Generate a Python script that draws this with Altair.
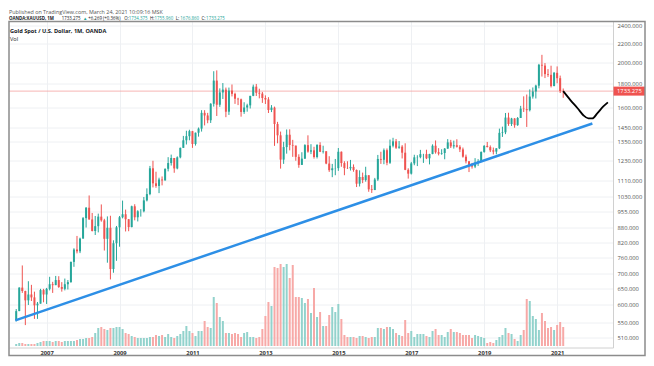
import altair as alt
import pandas as pd
import numpy as np

# ---------------- data (monthly candles, Mar 2006 .. Mar 2021) ----------------
first_open = 556
closes = [
    582, 654, 643, 614, 632, 623, 599, 604, 646, 632,
    650, 665, 662, 679, 656, 650, 665, 672, 743, 790, 783, 834,
    923, 972, 917, 866, 887, 930, 913, 833, 880, 717, 815, 882,
    927, 941, 918, 883, 979, 927, 955, 955, 1008, 1040, 1182, 1097,
    1083, 1118, 1113, 1179, 1213, 1244, 1181, 1248, 1308, 1358, 1386, 1421,
    1333, 1410, 1439, 1556, 1536, 1500, 1628, 1826, 1620, 1722, 1746, 1565,
    1738, 1710, 1669, 1664, 1563, 1598, 1615, 1693, 1772, 1719, 1712, 1675,
    1663, 1578, 1597, 1472, 1392, 1234, 1313, 1396, 1327, 1323, 1251, 1202,
    1240, 1326, 1284, 1292, 1250, 1327, 1283, 1286, 1210, 1171, 1182, 1183,
    1283, 1213, 1183, 1182, 1190, 1172, 1095, 1132, 1115, 1142, 1065, 1061,
    1118, 1238, 1233, 1293, 1215, 1322, 1351, 1309, 1316, 1277, 1173, 1151,
    1211, 1248, 1249, 1268, 1268, 1242, 1269, 1322, 1280, 1271, 1275, 1303,
    1344, 1318, 1325, 1315, 1298, 1252, 1224, 1201, 1192, 1215, 1222, 1282,
    1321, 1313, 1292, 1284, 1305, 1409, 1413, 1520, 1472, 1513, 1464, 1517,
    1589, 1585, 1577, 1687, 1730, 1781, 1975, 1967, 1886, 1879, 1777, 1898,
    1848, 1734, 1733.275,
]
highs = [
    588, 655, 730, 644, 675, 663, 641, 609, 650, 650,
    653, 690, 673, 693, 692, 672, 684, 679, 744, 795, 845, 838,
    928, 975, 1033, 947, 933, 944, 988, 920, 931, 934, 827, 888,
    933, 1007, 963, 919, 982, 989, 960, 965, 1025, 1070, 1196, 1227,
    1162, 1128, 1135, 1181, 1249, 1265, 1244, 1254, 1310, 1388, 1424, 1431,
    1423, 1411, 1447, 1577, 1577, 1556, 1632, 1913, 1921, 1757, 1804, 1764,
    1764, 1791, 1720, 1677, 1670, 1640, 1628, 1693, 1790, 1796, 1754, 1726,
    1697, 1682, 1617, 1605, 1488, 1418, 1348, 1433, 1434, 1361, 1322, 1267,
    1280, 1332, 1392, 1332, 1315, 1332, 1345, 1322, 1287, 1255, 1208, 1238,
    1307, 1285, 1224, 1224, 1232, 1205, 1175, 1170, 1157, 1191, 1142, 1088,
    1127, 1263, 1283, 1304, 1304, 1363, 1375, 1367, 1353, 1326, 1338, 1182,
    1220, 1264, 1261, 1295, 1270, 1296, 1270, 1331, 1357, 1306, 1299, 1307,
    1366, 1361, 1356, 1365, 1326, 1310, 1265, 1224, 1214, 1243, 1237, 1285,
    1326, 1347, 1324, 1310, 1306, 1439, 1453, 1555, 1557, 1518, 1516, 1524,
    1611, 1689, 1704, 1748, 1765, 1789, 1984, 2075, 1992, 1933, 1966, 1906,
    1959, 1872, 1755.96,
]
lows = [
    553, 582, 637, 543, 600, 612, 560, 560, 604, 608,
    603, 645, 637, 662, 653, 641, 645, 648, 670, 725, 775, 776,
    834, 881, 916, 864, 849, 860, 907, 786, 740, 681, 704, 747,
    801, 922, 864, 865, 882, 913, 908, 930, 950, 1003, 1034, 1075,
    1073, 1045, 1086, 1112, 1164, 1198, 1156, 1176, 1242, 1308, 1330, 1358,
    1308, 1323, 1383, 1418, 1462, 1478, 1480, 1605, 1532, 1603, 1667, 1523,
    1540, 1688, 1627, 1617, 1527, 1548, 1565, 1590, 1690, 1692, 1672, 1635,
    1626, 1555, 1562, 1321, 1338, 1180, 1208, 1271, 1292, 1251, 1227, 1185,
    1202, 1238, 1277, 1268, 1240, 1241, 1281, 1272, 1206, 1161, 1131, 1142,
    1167, 1191, 1142, 1178, 1169, 1162, 1077, 1080, 1098, 1106, 1052, 1046,
    1061, 1110, 1208, 1206, 1200, 1208, 1311, 1301, 1302, 1241, 1171, 1123,
    1146, 1200, 1195, 1242, 1214, 1237, 1205, 1267, 1271, 1260, 1264, 1236,
    1302, 1307, 1303, 1310, 1281, 1246, 1211, 1160, 1180, 1183, 1196, 1221,
    1277, 1311, 1281, 1266, 1267, 1300, 1381, 1400, 1459, 1458, 1445, 1459,
    1517, 1563, 1451, 1567, 1670, 1671, 1757, 1863, 1849, 1860, 1765, 1776,
    1802, 1717, 1676.86,
]
volumes = [
    2, 3, 3, 2, 2, 2, 2, 3, 4, 5,
    5, 5, 4, 5, 5, 4, 5, 5, 5, 5, 6, 7,
    7, 8, 8, 9, 13, 18, 19, 17, 16, 18, 18, 19,
    19, 17, 13, 12, 10, 9, 8, 8, 8, 8, 9, 9,
    11, 10, 11, 9, 12, 9, 8, 10, 12, 15, 20, 15,
    13, 10, 15, 15, 25, 19, 18, 49, 43, 29, 25, 13,
    13, 12, 13, 12, 9, 13, 14, 9, 9, 8, 9, 17,
    30, 44, 40, 79, 78, 82, 79, 82, 68, 81, 49, 49,
    48, 43, 47, 33, 58, 29, 34, 20, 20, 31, 39, 34,
    42, 27, 11, 9, 9, 9, 8, 10, 10, 9, 8, 9,
    9, 18, 18, 17, 19, 19, 17, 13, 11, 10, 26, 13,
    15, 9, 12, 12, 12, 10, 9, 15, 17, 11, 11, 9,
    14, 17, 14, 14, 13, 11, 11, 11, 8, 11, 10, 9,
    8, 3, 4, 3, 6, 9, 11, 18, 13, 12, 7, 5,
    11, 16, 47, 45, 30, 27, 16, 33, 25, 18, 19, 16,
    21, 24, 19,
]
last_open = 1734.375
last_price = 1733.275

# trend line (month index, price) and hand-drawn projection
trend_i = [-0.3, 189.6]
trend_p = [556, 1476]
proj_i = [180, 182.5, 184.8, 186.7, 188.3, 189.6, 191.2, 193.2, 194.7]
proj_p = [1733, 1654, 1590, 1536, 1514, 1514, 1552, 1606, 1639]

y_ticks = [510, 550, 600, 650, 700, 760, 820, 880, 955, 1030, 1110,
           1230, 1350, 1450, 1600, 1800, 2000, 2200, 2400]
year_ticks = [10, 34, 58, 82, 106, 130, 154, 178]   # Jan 2007 .. Jan 2021

header1 = "Published on TradingView.com, March 24, 2021 10:09:16 MSK"
header2 = [
    ("OANDA:XAUUSD, 1M ", "#131722", "bold"),
    ("1733.275 ", "#131722", "normal"),
    ("\u25b2 ", "#26a69a", "normal"),
    ("+6.269 (+0.36%) ", "#131722", "normal"),
    ("O:", "#131722", "normal"),
    ("1734.375 ", "#26a69a", "normal"),
    ("H:", "#131722", "normal"),
    ("1755.960 ", "#26a69a", "normal"),
    ("L:", "#131722", "normal"),
    ("1676.860 ", "#26a69a", "normal"),
    ("C:", "#131722", "normal"),
    ("1733.275", "#26a69a", "normal"),
]
pane_title = "Gold Spot / U.S. Dollar, 1M, OANDA"
pane_sub = "Vol"

# ---------------- styles / layout ----------------
GREEN, RED = "#26a69a", "#ef5350"
VGREEN, VRED = "#92d2cc", "#f7a9a7"
FONT = "Open Sans"
W, H = 604, 326
STRIP_X, STRIP_Y = 32, 8
H1_SIZE, H2_SIZE = 5.4, 4.4


def em_width(s, bold):
    w = 0.0
    for ch in s:
        if ch.isdigit() or ch == "+":
            w += 0.58
        elif ch in ".:,; ":
            w += 0.29
        elif ch in "()":
            w += 0.32
        elif ch == "%":
            w += 0.87
        elif ch == "\u25b2":
            w += 0.85
        elif ch.isupper():
            w += 0.78 if bold else 0.70
        else:
            w += 0.58
    return w * (1.08 if bold else 1.04)


opens = [first_open] + closes[:-1]
opens[-1] = last_open
df = pd.DataFrame({"i": list(range(len(closes))), "o": opens, "h": highs,
                   "l": lows, "c": closes, "v": volumes})
up = df["c"] >= df["o"]
df["cc"] = np.where(up, GREEN, RED)
df["vc"] = np.where(up, VGREEN, VRED)

trend_df = pd.DataFrame({"i": trend_i, "p": trend_p})
proj_df = pd.DataFrame({"i": proj_i, "p": proj_p})
pl_df = pd.DataFrame({"p": [last_price], "t": [f"{last_price:.3f}"]})
one = pd.DataFrame({"a": [0]})

xscale = alt.Scale(domain=[-0.728, 194.74], nice=False, zero=False)
pscale = alt.Scale(type="log", domain=[485.9, 2448.1], nice=False, zero=False)
vscale = alt.Scale(domain=[-1.5, 324.5], nice=False, zero=False)

xaxis = alt.Axis(values=year_ticks, labelExpr="'' + (2006 + floor((datum.value + 2) / 12))",
                 title=None, ticks=False, labelFontSize=5.8, labelFontWeight="bold",
                 labelColor="#333333", labelFont=FONT, labelPadding=1.5,
                 domainColor="#d0d0d0", grid=True, gridColor="#eef0f3")
yaxis = alt.Axis(orient="right", values=y_ticks, format=".3f", title=None, ticks=False,
                 labelFontSize=5.8, labelColor="#555555", labelFont=FONT, labelPadding=4,
                 labelOverlap=False, domainColor="#d0d0d0", grid=True, gridColor="#eef0f3")

X = alt.X("i:Q", scale=xscale, axis=xaxis)

vol = alt.Chart(df).mark_bar(size=2).encode(
    x=X, y=alt.Y("v:Q", scale=vscale, axis=None), y2=alt.Y2Datum(0),
    color=alt.Color("vc:N", scale=None))

wicks = alt.Chart(df).mark_rule(strokeWidth=1).encode(
    x=X, y=alt.Y("l:Q", scale=pscale, axis=yaxis), y2="h:Q",
    color=alt.Color("cc:N", scale=None))

bodies = alt.Chart(df).mark_bar(size=2).encode(
    x=X, y=alt.Y("o:Q", scale=pscale, axis=None), y2="c:Q",
    color=alt.Color("cc:N", scale=None))

price_line = alt.Chart(pl_df).mark_rule(color="#f5a3a1", strokeWidth=0.8).encode(
    y=alt.Y("p:Q", scale=pscale, axis=None))

trend = alt.Chart(trend_df).mark_line(color="#2d8fe6", strokeWidth=2.5).encode(
    x=X, y=alt.Y("p:Q", scale=pscale, axis=None))

proj = alt.Chart(proj_df).mark_line(color="#000000", strokeWidth=1.8,
                                    interpolate="monotone").encode(
    x=X, y=alt.Y("p:Q", scale=pscale, axis=None))

pl_box = alt.Chart(pl_df).mark_rect(color="#ef5350", yOffset=-4.5, y2Offset=4.5).encode(
    x=alt.value(W + 0.5), x2=alt.value(W + STRIP_X), y=alt.Y("p:Q", scale=pscale, axis=None),
    y2="p:Q")
pl_text = alt.Chart(pl_df).mark_text(color="white", fontSize=5.8, font=FONT,
                                     align="left", baseline="middle").encode(
    x=alt.value(W + 4), y=alt.Y("p:Q", scale=pscale, axis=None), text="t:N")

frame = alt.Chart(one).mark_rect(fillOpacity=0, stroke="#8c8c8c", strokeWidth=1.5).encode(
    x=alt.value(0), x2=alt.value(W + STRIP_X), y=alt.value(0), y2=alt.value(H + STRIP_Y))

texts = [
    alt.Chart(one).mark_text(align="left", baseline="middle", fontSize=H1_SIZE, font=FONT,
                             color="#555555").encode(
        x=alt.value(0), y=alt.value(-9.8), text=alt.value(header1)),
    alt.Chart(one).mark_text(align="left", baseline="middle", fontSize=5.6, font=FONT,
                             fontWeight="bold", color="#131722").encode(
        x=alt.value(1), y=alt.value(9), text=alt.value(pane_title)),
    alt.Chart(one).mark_text(align="left", baseline="middle", fontSize=5.6, font=FONT,
                             color="#131722").encode(
        x=alt.value(1), y=alt.value(17), text=alt.value(pane_sub)),
]
xpos = 0.0
for txt, col, wt in header2:
    texts.append(alt.Chart(one).mark_text(align="left", baseline="middle", fontSize=H2_SIZE,
                                          font=FONT, fontWeight=wt, color=col).encode(
        x=alt.value(round(xpos, 2)), y=alt.value(-3.0), text=alt.value(txt.rstrip())))
    xpos += em_width(txt, wt == "bold") * H2_SIZE

chart = alt.layer(
    vol, price_line, wicks, bodies, trend, proj, pl_box, pl_text, frame, *texts
).resolve_scale(y="independent").properties(
    width=W, height=H, padding={"top": 1.5, "left": 0, "right": 0, "bottom": 0}
).configure_view(strokeWidth=0)

chart.save("out.html", embed_options={"renderer": "svg", "actions": False})
